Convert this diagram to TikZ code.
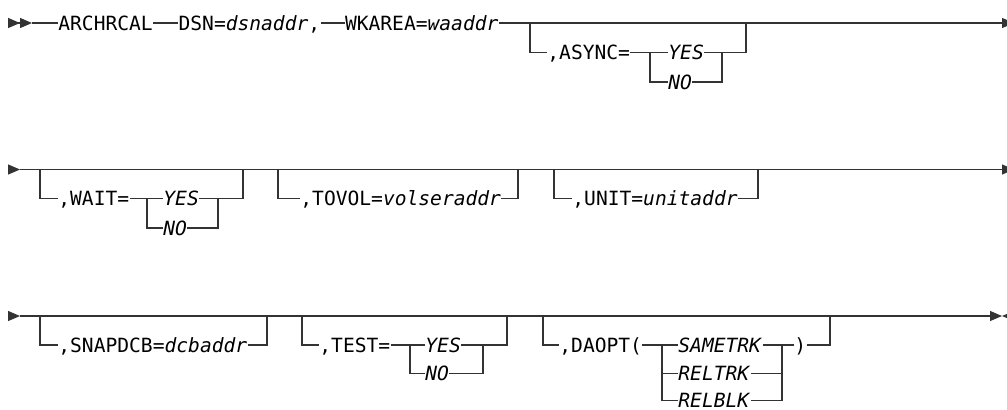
\documentclass[tikz,border=0pt]{standalone}
\usepackage{fontspec}
\setmainfont{DejaVu Sans Mono}
\usepackage{tikz}
\usetikzlibrary{positioning,arrows.meta}

\begin{document}
\begin{tikzpicture}[
    x=0.5pt, y=-0.5pt,
    rail/.style={draw=black!80, line width=0.6pt},
    kw/.style={inner sep=0pt, anchor=west, text height=7.1pt, text depth=0pt, font=\fontsize{9.8pt}{11pt}\selectfont},
    railend/.style={-{Triangle[length=6pt,width=5pt]}},
    railstart/.style={-{Triangle[length=6pt,width=5pt] Triangle[length=6pt,width=5pt]}}
]
\useasboundingbox (0,0) rectangle (1007,409);

% First line
\coordinate (s1) at (8,23);
\coordinate (l1) at (32,23);
\coordinate (e1) at (1014,23);
\node[kw] (archrcal) at (58,23) {ARCHRCAL};
\node[kw, right=12.5pt of archrcal] (dsn) {DSN=\textit{dsnaddr},};
\node[kw, right=12pt of dsn] (wkarea) {WKAREA=\textit{waaddr}};
\draw[rail, railstart] (s1) -- (l1);
\draw[rail] (l1) -- (archrcal) -- (dsn) -- (wkarea);
\draw[rail, railend] (wkarea) -- (e1);

% ASYNC option
\coordinate (a_in) at (530,23);
\coordinate (a_out) at (746,23);
\coordinate (a_split) at (650,52.5);
\coordinate (a_join) at (722,52.5);
\node[kw] (async) at (547,52.5) {,ASYNC=};
\node[kw] (async_yes) at (668,52.5) {\textit{YES}};
\node[kw] (async_no) at (668,82) {\textit{NO}};
\draw[rail] (a_in) |- (async) -- (async_yes) -- (a_join) -| (a_out);
\draw[rail] (a_split) |- (async_no) -| (a_join);

% Second line
\coordinate (s2) at (8,169.5);
\coordinate (l2) at (20,169.5);
\coordinate (e2) at (1014,169.5);
\draw[rail, railend] (s2) -- (l2);
\draw[rail, railend] (l2) -- (e2);

% WAIT option
\coordinate (w_in) at (40,169.5);
\coordinate (w_out) at (243,169.5);
\coordinate (w_split) at (147,198.5);
\coordinate (w_join) at (218,198.5);
\node[kw] (wait) at (58,198.5) {,WAIT=};
\node[kw] (wait_yes) at (163,198.5) {\textit{YES}};
\node[kw] (wait_no) at (163,228) {\textit{NO}};
\draw[rail] (w_in) |- (wait) -- (wait_yes) -- (w_join) -| (w_out);
\draw[rail] (w_split) |- (wait_no) -| (w_join);

% TOVOL option
\coordinate (t_in) at (278,169.5);
\coordinate (t_out) at (518,169.5);
\node[kw] (tovol) at (300,198.5) {,TOVOL=\textit{volseraddr}};
\draw[rail] (t_in) |- (tovol) -| (t_out);

% UNIT option
\coordinate (u_in) at (554,169.5);
\coordinate (u_out) at (758,169.5);
\node[kw] (unit) at (572,198.5) {,UNIT=\textit{unitaddr}};
\draw[rail] (u_in) |- (unit) -| (u_out);

% Third line
\coordinate (s3) at (8,316);
\coordinate (l3) at (20,316);
\coordinate (e3) at (1002,316);
\coordinate (f3) at (1014,316);
\draw[rail, railend] (s3) -- (l3);
\draw[rail, railend] (l3) -- (e3);
\draw[rail, {Triangle[length=6pt,width=5pt]}-] (e3) -- (f3);

% SNAPDCB option
\coordinate (n_in) at (40,316);
\coordinate (n_out) at (267,316);
\node[kw] (snapdcb) at (58,345) {,SNAPDCB=\textit{dcbaddr}};
\draw[rail] (n_in) |- (snapdcb) -| (n_out);

% TEST option
\coordinate (x_in) at (302,316);
\coordinate (x_out) at (507,316);
\coordinate (x_split) at (410,345);
\coordinate (x_join) at (483,345);
\node[kw] (test) at (319,345) {,TEST=};
\node[kw] (test_yes) at (425,345) {\textit{YES}};
\node[kw] (test_no) at (425,373.5) {\textit{NO}};
\draw[rail] (x_in) |- (test) -- (test_yes) -- (x_join) -| (x_out);
\draw[rail] (x_split) |- (test_no) -| (x_join);

% DAOPT option
\coordinate (d_in) at (543,316);
\coordinate (d_out) at (830,316);
\coordinate (d_split) at (662,345);
\coordinate (d_join) at (782,345);
\node[kw] (daopt) at (559,345) {,DAOPT(};
\node[kw] (sametrk) at (678,345) {\textit{SAMETRK}};
\node[kw] (reltrk) at (678,373.5) {\textit{RELTRK}};
\node[kw] (relblk) at (678,400.5) {\textit{RELBLK}};
\node[kw] (daopt_end) at (794,345) {)};
\draw[rail] (d_in) |- (daopt) -- (sametrk) -- (d_join) -- (daopt_end) -| (d_out);
\draw[rail] (d_split) |- (relblk) -| (d_join);
\draw[rail] (d_split) |- (reltrk) -| (d_join);

\end{tikzpicture}
\end{document}
